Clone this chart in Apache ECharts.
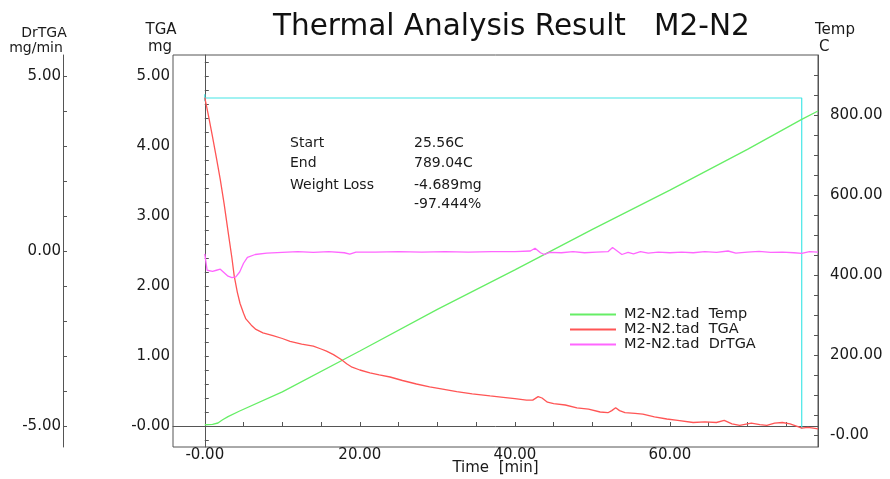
<!DOCTYPE html>
<html>
<head>
<meta charset="utf-8">
<script src="https://cdn.jsdelivr.net/npm/echarts@6/dist/echarts.min.js"></script>
<style>
  html, body { margin: 0; padding: 0; background: #fff; }
  #main { width: 890px; height: 479px; }
</style>
</head>
<body>
<div id="main"></div>
<script>
// time [min] and values
var tempTime = [0, 1, 1.7, 2.3, 3, 4.5, 10, 20, 30, 40, 50, 60, 70, 77, 79.1];
var tempValues = [25.6, 26.5, 30, 38, 46, 60, 108, 210, 314, 413, 514, 612, 714, 789, 810];

var tgaTime = [0, 0.5, 1, 1.5, 2, 2.5, 3, 3.5, 3.8, 4.2, 4.55, 5, 5.3, 6, 6.6, 7.5, 8.8, 10, 11, 12.5, 14, 15, 15.7, 16.6, 17.6, 18.3, 19, 20, 21.3, 22.5, 23.9,
  25.5, 27.3, 29, 30.5, 32.5, 34.5, 36.8, 38.5, 40, 41.5, 42.3, 43, 43.5, 44.2, 45, 46.5, 48, 49.5, 51, 52, 52.5, 53, 53.5, 54.2, 55.5, 56.5, 58, 59.6,
  61, 63, 64.5, 66, 67, 68, 69, 70.5, 71.6, 72.5, 73.5, 74.5, 75.5, 76.5, 77, 77.8, 78.5, 79.1];
var tgaMass = [4.69, 4.42, 4.13, 3.83, 3.52, 3.17, 2.78, 2.40, 2.14, 1.91, 1.75, 1.61, 1.53, 1.44, 1.38, 1.33, 1.29, 1.25, 1.21, 1.17, 1.14, 1.10, 1.07, 1.02, 0.95, 0.89, 0.84, 0.80, 0.76, 0.73, 0.70,
  0.65, 0.60, 0.56, 0.53, 0.49, 0.46, 0.43, 0.41, 0.39, 0.37, 0.37, 0.42, 0.40, 0.34, 0.32, 0.30, 0.26, 0.24, 0.20, 0.19, 0.22, 0.26, 0.22, 0.19, 0.18, 0.17, 0.13, 0.10,
  0.08, 0.05, 0.06, 0.05, 0.08, 0.03, 0.01, 0.04, 0.02, 0.01, 0.04, 0.05, 0.03, -0.01, -0.03, -0.02, -0.03, -0.04];

var drTime = [0, 0.3, 1, 1.5, 2, 2.5, 3, 3.5, 4, 4.5, 5, 5.5, 6.5, 8, 10, 12, 14, 16, 18, 18.7, 19.5, 22, 25, 28, 31, 34, 37, 40, 42, 42.6, 43.3, 43.8, 44.5,
  46, 47.5, 49, 50.5, 52, 52.6, 53.2, 53.8, 54.6, 55.3, 56.2, 57.2, 58.5, 60, 61.5, 63, 64.5, 66, 67.5, 68.5, 70, 71.5, 73, 74.5, 76, 77, 78, 79.1];
var drValues = [-0.08, -0.55, -0.58, -0.55, -0.52, -0.62, -0.72, -0.76, -0.74, -0.6, -0.35, -0.18, -0.1, -0.06, -0.04, -0.02, -0.04, -0.02, -0.05, -0.09, -0.03, -0.03, -0.02, -0.03, -0.02, -0.03, -0.02, -0.02, 0.0, 0.08, -0.05, -0.1, -0.04,
  -0.05, -0.02, -0.05, -0.03, -0.02, 0.1, 0.0, -0.1, -0.04, -0.08, -0.02, -0.06, -0.03, -0.05, -0.03, -0.05, -0.02, -0.04, 0.0, -0.06, -0.03, -0.01, -0.04, -0.03, -0.05, -0.07, -0.02, -0.03];

// start/end weight marker
var markTime = [0, 0, 0, 77, 77];
var markMass = [4.64, 4.74, 4.686, 4.686, -0.04];

var seriesNames = ['M2-N2.tad  Temp', 'M2-N2.tad  TGA', 'M2-N2.tad  DrTGA'];

var timeTicks = [0, 20, 40, 60];
var timeTickLabels = ['-0.00', '20.00', '40.00', '60.00'];
var timeMinor = [0, 5, 10, 15, 20, 25, 30, 35, 40, 45, 50, 55, 60, 65, 70, 75];
var tgaTicks = [0, 1, 2, 3, 4, 5];
var tgaTickLabels = ['-0.00', '1.00', '2.00', '3.00', '4.00', '5.00'];
var tgaMinor = [-0.2, 0, 0.2, 0.4, 0.6, 0.8, 1, 1.2, 1.4, 1.6, 1.8, 2, 2.2, 2.4, 2.6, 2.8, 3, 3.2, 3.4, 3.6, 3.8, 4, 4.2, 4.4, 4.6, 4.8, 5, 5.2];
var drTicks = [-5, 0, 5];
var drTickLabels = ['-5.00', '0.00', '5.00'];
var drMinor = [-5, -4, -3, -2, -1, 0, 1, 2, 3, 4, 5];
var tempTicks = [0, 200, 400, 600, 800];
var tempTickLabels = ['-0.00', '200.00', '400.00', '600.00', '800.00'];
var tempMinor = [0, 50, 100, 150, 200, 250, 300, 350, 400, 450, 500, 550, 600, 650, 700, 750, 800, 850, 900];

var infoNames = ['Start', 'End', 'Weight Loss', ''];
var infoValues = ['25.56C', '789.04C', '-4.689mg', '-97.444%'];

function pairs(xs, ys) {
  return xs.map(function (x, i) { return [x, ys[i]]; });
}
function labelOf(ticks, labels) {
  return function (v) {
    for (var i = 0; i < ticks.length; i++) {
      if (Math.abs(ticks[i] - v) < 1e-6) return labels[i];
    }
    return '';
  };
}

var FONT = 'DejaVu Sans';
var axisColor = '#555';
var textColor = '#1a1a1a';

function yAxisBase(pos, offset, min, max, ticks, labels, minor, margin) {
  return {
    type: 'value',
    position: pos,
    offset: offset,
    min: min,
    max: max,
    splitLine: { show: false },
    axisLine: { show: true, lineStyle: { color: axisColor, width: 1 } },
    axisTick: { show: true, inside: true, length: 4, customValues: minor, lineStyle: { color: axisColor } },
    axisLabel: {
      customValues: ticks, formatter: labelOf(ticks, labels),
      fontFamily: FONT, fontSize: 15, color: textColor, margin: margin
    }
  };
}

function txt(s, x, y, size, align) {
  return {
    type: 'text', x: x, y: y, silent: true,
    style: { text: s, font: size + 'px "' + FONT + '"', fill: textColor, align: align || 'left', verticalAlign: 'middle' }
  };
}

var chart = echarts.init(document.getElementById('main'));

var graphics = [
  // axis titles
  txt('DrTGA', 44, 33, 14, 'center'),
  txt('mg/min', 36, 48, 14, 'center'),
  txt('TGA', 161, 30, 15, 'center'),
  txt('mg', 160, 47, 15, 'center'),
  txt('Temp', 815, 30, 15, 'left'),
  txt('C', 819, 47, 15, 'left')
];
infoNames.forEach(function (n, i) {
  var y = [143, 163, 185, 204][i];
  graphics.push(txt(n, 290, y, 14));
  graphics.push(txt(infoValues[i], 414, y, 14));
});

chart.setOption({
  animation: false,
  backgroundColor: '#fff',
  title: {
    text: 'Thermal Analysis Result   M2-N2',
    left: 273,
    top: 12,
    padding: 0,
    textStyle: { fontFamily: FONT, fontSize: 29.5, fontWeight: 'normal', color: '#111' }
  },
  grid: {
    left: 173, right: 72, top: 55, bottom: 32,
    show: true, borderColor: axisColor, borderWidth: 1,
    outerBoundsMode: 'none'
  },
  legend: {
    data: seriesNames,
    orient: 'vertical',
    left: 569,
    top: 307,
    padding: 0,
    itemGap: 0,
    itemWidth: 46,
    itemHeight: 14,
    itemStyle: { opacity: 0 },
    textStyle: { fontFamily: FONT, fontSize: 14.5, color: textColor, lineHeight: 14, padding: [0, 0, 0, 3] }
  },
  xAxis: {
    type: 'value',
    min: -4.1,
    max: 79.1,
    name: 'Time  [min]',
    nameLocation: 'middle',
    nameGap: 14,
    nameMoveOverlap: false,
    nameTextStyle: { fontFamily: FONT, fontSize: 15, color: textColor, verticalAlign: 'top' },
    splitLine: { show: false },
    axisLine: { show: true, lineStyle: { color: axisColor } },
    axisTick: { show: true, inside: true, length: 4, customValues: timeMinor, lineStyle: { color: axisColor } },
    axisLabel: {
      customValues: timeTicks, formatter: labelOf(timeTicks, timeTickLabels),
      fontFamily: FONT, fontSize: 15, color: textColor, margin: 1
    }
  },
  yAxis: [
    yAxisBase('left', 0, -0.3, 5.3, tgaTicks, tgaTickLabels, tgaMinor, 3),
    yAxisBase('left', 110, -5.6, 5.6, drTicks, drTickLabels, drMinor, 2),
    yAxisBase('right', 0, -30, 950, tempTicks, tempTickLabels, tempMinor, 12)
  ],
  graphic: graphics,
  series: [
    {
      name: 'marker', type: 'line', yAxisIndex: 0, symbol: 'none', silent: true,
      lineStyle: { color: '#44e6e6', width: 1.2 },
      data: pairs(markTime, markMass)
    },
    {
      name: seriesNames[0], type: 'line', yAxisIndex: 2, symbol: 'none',
      itemStyle: { color: '#66ee66' },
      lineStyle: { color: '#66ee66', width: 1.3 },
      data: pairs(tempTime, tempValues)
    },
    {
      name: seriesNames[1], type: 'line', yAxisIndex: 0, symbol: 'none',
      itemStyle: { color: '#ff5555' },
      lineStyle: { color: '#ff5555', width: 1.3 },
      data: pairs(tgaTime, tgaMass)
    },
    {
      name: seriesNames[2], type: 'line', yAxisIndex: 1, symbol: 'none',
      itemStyle: { color: '#ff66ff' },
      lineStyle: { color: '#ff66ff', width: 1.3 },
      data: pairs(drTime, drValues)
    }
  ]
});
</script>
</body>
</html>
